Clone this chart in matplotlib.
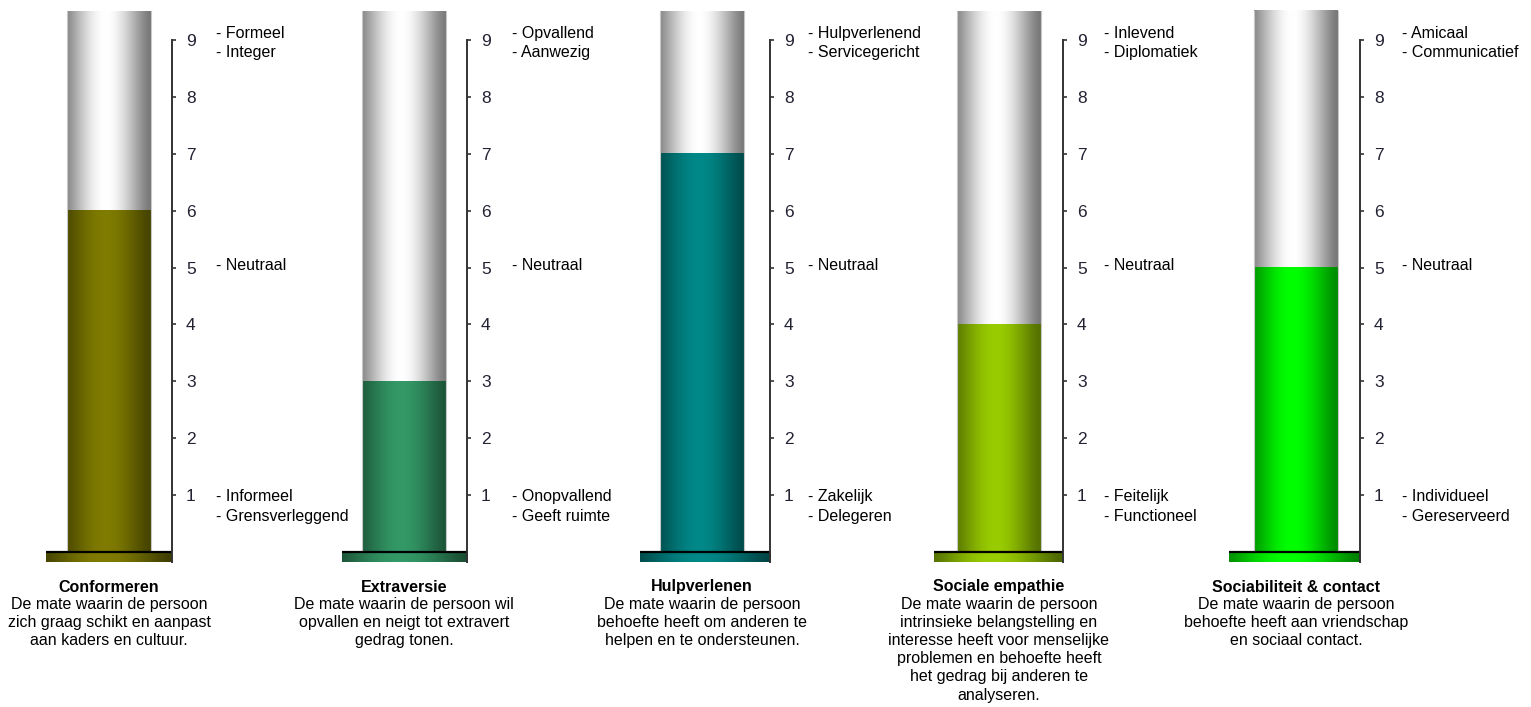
import numpy as np
import matplotlib.pyplot as plt
import matplotlib.colors as mcolors

plt.rcParams['font.family'] = ['Liberation Sans', 'DejaVu Sans']

# scale values per dimension
titles = ["Conformeren", "Extraversie", "Hulpverlenen", "Sociale empathie", "Sociabiliteit & contact"]
scores = [6, 3, 7, 4, 5]
descriptions = [
    "De mate waarin de persoon\nzich graag schikt en aanpast\naan kaders en cultuur.",
    "De mate waarin de persoon wil\nopvallen en neigt tot extravert\ngedrag tonen.",
    "De mate waarin de persoon\nbehoefte heeft om anderen te\nhelpen en te ondersteunen.",
    "De mate waarin de persoon\nintrinsieke belangstelling en\ninteresse heeft voor menselijke\nproblemen en behoefte heeft\nhet gedrag bij anderen te\nanalyseren.",
    "De mate waarin de persoon\nbehoefte heeft aan vriendschap\nen sociaal contact.",
]
high_labels = [
    ["Formeel", "Integer"],
    ["Opvallend", "Aanwezig"],
    ["Hulpverlenend", "Servicegericht"],
    ["Inlevend", "Diplomatiek"],
    ["Amicaal", "Communicatief"],
]
low_labels = [
    ["Informeel", "Grensverleggend"],
    ["Onopvallend", "Geeft ruimte"],
    ["Zakelijk", "Delegeren"],
    ["Feitelijk", "Functioneel"],
    ["Individueel", "Gereserveerd"],
]
mid_label = "Neutraal"
ticks = list(range(1, 10))
scale_top = 9.5

bar_colors = ["#807c00", "#339966", "#008888", "#99cc00", "#00ff00"]

# layout in pixels
W, H = 1531, 707
base_left = [46, 342, 640, 934, 1229]
axis_x = [172, 467, 770, 1063, 1360]
label_x = [216, 512, 808, 1104, 1402]
bar_offset = [21, 20, 20, 23, 25]
bar_width = 84
zero_y = 552
unit = 56.9
y_lo, y_hi = -0.18, 9.65
txt_size = 11.5


def shade_profile(n=200):
    t = np.linspace(0, 1, n)
    p = 0.5 * (1 + np.cos(np.pi * (t - 0.46) / 0.54))
    return np.clip(p, 0, 1) ** 0.7


def gradient(color, lo):
    rgb = np.array(mcolors.to_rgb(color))
    p = shade_profile()
    row = (lo + (1 - lo) * p)[:, None] * rgb[None, :]
    return row[None, :, :]


def gray_gradient():
    p = shade_profile()
    v = 0.47 + 0.53 * p
    row = np.stack([v, v, v], axis=1)
    return row[None, :, :]


fig = plt.figure(figsize=(W / 100, H / 100), dpi=100)

for i in range(len(titles)):
    left = base_left[i]
    width = axis_x[i] - left
    top_px = zero_y - y_hi * unit
    bot_px = zero_y - y_lo * unit
    ax = fig.add_axes([left / W, 1 - bot_px / H, width / W, (bot_px - top_px) / H])
    ax.set_xlim(0, width)
    ax.set_ylim(y_lo, y_hi)
    ax.patch.set_alpha(0)

    x0 = bar_offset[i]
    x1 = x0 + bar_width
    # glass tube (empty part) and filled part
    ax.imshow(gray_gradient(), extent=(x0, x1, scores[i], scale_top), aspect='auto', zorder=1)
    ax.imshow(gradient(bar_colors[i], 0.55), extent=(x0, x1, 0, scores[i]), aspect='auto', zorder=2)
    ax.plot([x0, x0], [0, scale_top], color="#c8c8c8", lw=0.8, zorder=3)
    ax.plot([x1, x1], [0, scale_top], color="#c8c8c8", lw=0.8, zorder=3)

    # base plate
    ax.imshow(gradient(bar_colors[i], 0.5), extent=(0, width, y_lo, 0), aspect='auto', zorder=2)
    ax.plot([0, width], [0, 0], color="black", lw=1.6, zorder=4)

    for side in ["left", "top", "bottom"]:
        ax.spines[side].set_visible(False)
    ax.spines["right"].set_color("#333333")
    ax.spines["right"].set_linewidth(1.4)
    ax.spines["right"].set_bounds(y_lo, 9.0)
    ax.spines["right"].set_zorder(5)
    ax.set_xticks([])
    ax.yaxis.tick_right()
    ax.set_yticks(ticks)
    ax.set_yticklabels([str(t) for t in ticks])
    ax.tick_params(axis='y', direction='out', length=3, width=1.2, color="#333333",
                   labelsize=12.5, labelcolor="#222233", pad=7)

    lx = label_x[i] - left
    ax.text(lx, 9.12, "- " + high_labels[i][0], fontsize=txt_size, va='center', ha='left', clip_on=False)
    ax.text(lx, 8.77, "- " + high_labels[i][1], fontsize=txt_size, va='center', ha='left', clip_on=False)
    ax.text(lx, 5.03, "- " + mid_label, fontsize=txt_size, va='center', ha='left', clip_on=False)
    ax.text(lx, 0.97, "- " + low_labels[i][0], fontsize=txt_size, va='center', ha='left', clip_on=False)
    ax.text(lx, 0.62, "- " + low_labels[i][1], fontsize=txt_size, va='center', ha='left', clip_on=False)

    # caption under the tube
    cx = (left + x0 + bar_width / 2) / W
    fig.text(cx, 1 - 587 / H, titles[i], fontsize=txt_size, fontweight='bold', ha='center', va='center')
    fig.text(cx, 1 - 597 / H, descriptions[i], fontsize=txt_size, ha='center', va='top', linespacing=1.26)

fig.savefig("out.png", dpi=100)
